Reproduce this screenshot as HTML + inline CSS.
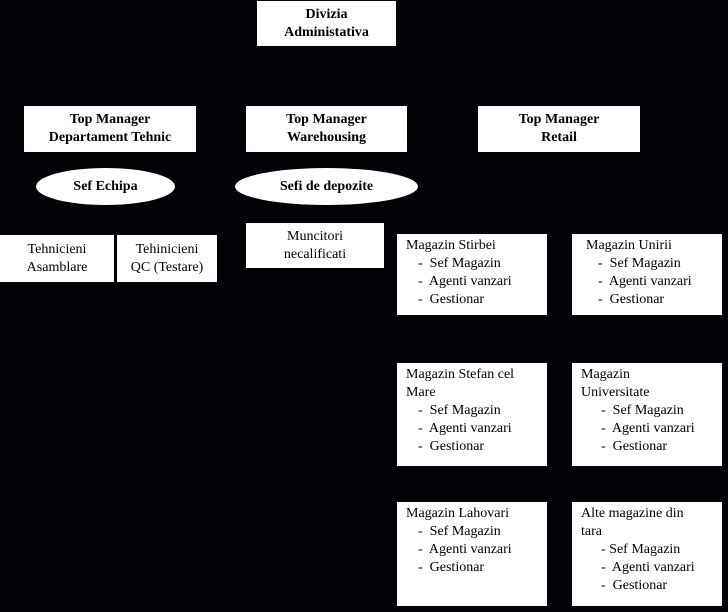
<!DOCTYPE html>
<html><head><meta charset="utf-8"><style>
html,body{margin:0;padding:0;}
body{width:728px;height:612px;background:#030206;position:relative;overflow:hidden;font-family:"Liberation Serif",serif;font-size:14px;color:#000;}
.b{position:absolute;background:#fff;box-sizing:border-box;}
.c{text-align:center;display:flex;align-items:center;justify-content:center;line-height:18px;}
.bold{font-weight:bold;}
.e{position:absolute;background:#fff;border-radius:50%;display:flex;align-items:center;justify-content:center;font-weight:bold;}
.m{padding:3px 0 0 9px;line-height:18px;}
.m div.i{padding-left:12px;}
</style></head><body>
<div class="b c bold" style="left:257px;top:1px;width:139px;height:45px;">Divizia<br>Administativa</div>
<div class="b c bold" style="left:24px;top:106px;width:172px;height:46px;">Top Manager<br>Departament Tehnic</div>
<div class="b c bold" style="left:246px;top:106px;width:161px;height:46px;">Top Manager<br>Warehousing</div>
<div class="b c bold" style="left:478px;top:106px;width:162px;height:46px;">Top Manager<br>Retail</div>
<div class="e" style="left:36px;top:168px;width:139px;height:37px;">Sef Echipa</div>
<div class="e" style="left:235px;top:168px;width:183px;height:37px;">Sefi de depozite</div>
<div class="b c" style="left:0px;top:235px;width:114px;height:47px;">Tehnicieni<br>Asamblare</div>
<div class="b c" style="left:117px;top:235px;width:100px;height:47px;">Tehinicieni<br>QC (Testare)</div>
<div class="b c" style="left:246px;top:223px;width:138px;height:45px;">Muncitori<br>necalificati</div>

<div class="b m" style="left:397px;top:234px;width:150px;height:81px;">Magazin Stirbei<div class="i">-&nbsp; Sef Magazin</div><div class="i">-&nbsp; Agenti vanzari</div><div class="i">-&nbsp; Gestionar</div></div>
<div class="b m" style="left:572px;top:234px;width:150px;height:81px;padding-left:14px;">Magazin Unirii<div class="i">-&nbsp; Sef Magazin</div><div class="i">-&nbsp; Agenti vanzari</div><div class="i">-&nbsp; Gestionar</div></div>
<div class="b m" style="left:397px;top:363px;width:150px;height:103px;">Magazin Stefan cel<br>Mare<div class="i">-&nbsp; Sef Magazin</div><div class="i">-&nbsp; Agenti vanzari</div><div class="i">-&nbsp; Gestionar</div></div>
<div class="b m" style="left:572px;top:363px;width:150px;height:103px;">Magazin<br>Universitate<div class="i" style="padding-left:20px">-&nbsp; Sef Magazin</div><div class="i" style="padding-left:20px">-&nbsp; Agenti vanzari</div><div class="i" style="padding-left:20px">-&nbsp; Gestionar</div></div>
<div class="b m" style="left:397px;top:502px;width:150px;height:104px;">Magazin Lahovari<div class="i">-&nbsp; Sef Magazin</div><div class="i">-&nbsp; Agenti vanzari</div><div class="i">-&nbsp; Gestionar</div></div>
<div class="b m" style="left:572px;top:502px;width:150px;height:104px;">Alte magazine din<br>tara<div class="i" style="padding-left:20px">- Sef Magazin</div><div class="i" style="padding-left:20px">-&nbsp; Agenti vanzari</div><div class="i" style="padding-left:20px">-&nbsp; Gestionar</div></div>
</body></html>
